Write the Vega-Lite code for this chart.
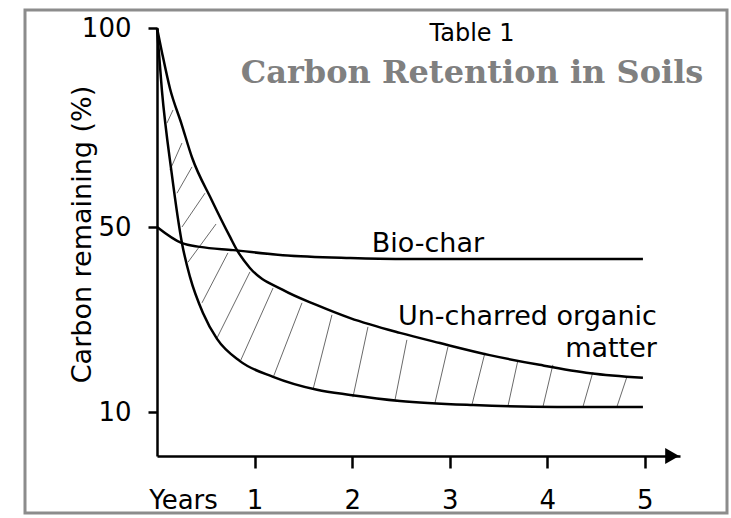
{
  "$schema": "https://vega.github.io/schema/vega-lite/v6.json",
  "autosize": {"type": "none"},
  "width": 702,
  "height": 503,
  "padding": {"left": 25, "top": 10, "right": 4, "bottom": 5},
  "background": "white",
  "title": {
    "text": "Table 1",
    "subtitle": "Carbon Retention in Soils",
    "anchor": "middle",
    "frame": "group",
    "dx": 96,
    "offset": -79,
    "baseline": "top",
    "font": "DejaVu Sans",
    "fontSize": 24,
    "fontWeight": "normal",
    "color": "black",
    "subtitleFont": "DejaVu Serif",
    "subtitleFontSize": 32,
    "subtitleFontWeight": "bold",
    "subtitleColor": "#808080",
    "subtitlePadding": 12
  },
  "datasets": {
    "curves": [
      {"series": "Un-charred organic matter", "t": 0, "v": 100},
      {"series": "Un-charred organic matter", "t": 0.05, "v": 94},
      {"series": "Un-charred organic matter", "t": 0.133, "v": 84.8},
      {"series": "Un-charred organic matter", "t": 0.25, "v": 76},
      {"series": "Un-charred organic matter", "t": 0.36, "v": 67.4},
      {"series": "Un-charred organic matter", "t": 0.56, "v": 56.8},
      {"series": "Un-charred organic matter", "t": 0.75, "v": 47.8},
      {"series": "Un-charred organic matter", "t": 0.82, "v": 45.0},
      {"series": "Un-charred organic matter", "t": 0.95, "v": 41.2},
      {"series": "Un-charred organic matter", "t": 1.29, "v": 36.4},
      {"series": "Un-charred organic matter", "t": 1.64, "v": 33.1},
      {"series": "Un-charred organic matter", "t": 1.98, "v": 30.3},
      {"series": "Un-charred organic matter", "t": 2.49, "v": 27.1},
      {"series": "Un-charred organic matter", "t": 2.9, "v": 24.9},
      {"series": "Un-charred organic matter", "t": 3.41, "v": 22.3},
      {"series": "Un-charred organic matter", "t": 3.92, "v": 20.2},
      {"series": "Un-charred organic matter", "t": 4.44, "v": 18.4},
      {"series": "Un-charred organic matter", "t": 4.98, "v": 17.4},
      {"series": "Lower bound", "t": 0, "v": 100},
      {"series": "Lower bound", "t": 0.05, "v": 84.4},
      {"series": "Lower bound", "t": 0.15, "v": 63.6},
      {"series": "Lower bound", "t": 0.256, "v": 46.5},
      {"series": "Lower bound", "t": 0.338, "v": 39.2},
      {"series": "Lower bound", "t": 0.471, "v": 31.4},
      {"series": "Lower bound", "t": 0.615, "v": 25.8},
      {"series": "Lower bound", "t": 0.85, "v": 21.0},
      {"series": "Lower bound", "t": 1.19, "v": 17.6},
      {"series": "Lower bound", "t": 1.64, "v": 14.8},
      {"series": "Lower bound", "t": 1.98, "v": 13.7},
      {"series": "Lower bound", "t": 2.49, "v": 12.4},
      {"series": "Lower bound", "t": 3.24, "v": 11.5},
      {"series": "Lower bound", "t": 4.1, "v": 11.1},
      {"series": "Lower bound", "t": 4.98, "v": 11.1},
      {"series": "Bio-char", "t": 0, "v": 50},
      {"series": "Bio-char", "t": 0.256, "v": 46.5},
      {"series": "Bio-char", "t": 0.44, "v": 45.7},
      {"series": "Bio-char", "t": 0.78, "v": 45.0},
      {"series": "Bio-char", "t": 1.29, "v": 43.9},
      {"series": "Bio-char", "t": 1.98, "v": 43.3},
      {"series": "Bio-char", "t": 2.49, "v": 43.1},
      {"series": "Bio-char", "t": 3.5, "v": 43.1},
      {"series": "Bio-char", "t": 4.98, "v": 43.1}
    ],
    "hatch": [
      {"t1": 0.102, "v1": 76.1, "t2": 0.164, "v2": 79.4},
      {"t1": 0.133, "v1": 64.3, "t2": 0.256, "v2": 71.1},
      {"t1": 0.205, "v1": 58.5, "t2": 0.359, "v2": 65.1},
      {"t1": 0.256, "v1": 50.0, "t2": 0.492, "v2": 58.5},
      {"t1": 0.318, "v1": 42.4, "t2": 0.605, "v2": 50.75},
      {"t1": 0.461, "v1": 33.6, "t2": 0.727, "v2": 44.4},
      {"t1": 0.615, "v1": 26.0, "t2": 0.953, "v2": 40.3},
      {"t1": 0.85, "v1": 20.8, "t2": 1.189, "v2": 36.8},
      {"t1": 1.189, "v1": 17.4, "t2": 1.486, "v2": 33.6},
      {"t1": 1.598, "v1": 14.8, "t2": 1.793, "v2": 31.0},
      {"t1": 2.008, "v1": 13.2, "t2": 2.162, "v2": 28.4},
      {"t1": 2.439, "v1": 12.6, "t2": 2.561, "v2": 25.6},
      {"t1": 2.848, "v1": 11.9, "t2": 2.982, "v2": 24.1},
      {"t1": 3.227, "v1": 11.5, "t2": 3.361, "v2": 22.8},
      {"t1": 3.596, "v1": 11.2, "t2": 3.699, "v2": 21.2},
      {"t1": 3.955, "v1": 11.1, "t2": 4.057, "v2": 20.2},
      {"t1": 4.365, "v1": 11.1, "t2": 4.467, "v2": 18.6},
      {"t1": 4.713, "v1": 11.1, "t2": 4.816, "v2": 17.6}
    ]
  },
  "layer": [
    {
      "data": {"name": "hatch"},
      "mark": {"type": "rule", "color": "#6a6a6a", "strokeWidth": 1},
      "encoding": {
        "x": {
          "field": "t1", "type": "quantitative",
          "scale": {"domain": [0, 5.36], "range": [132, 655], "nice": false, "zero": false},
          "axis": {
            "orient": "bottom", "offset": -57, "values": [1, 2, 3, 4, 5], "format": "d",
            "domain": true, "domainColor": "black", "domainWidth": 2.5,
            "ticks": true, "tickColor": "black", "tickWidth": 2.5, "tickSize": 12, "tickOpacity": 1,
            "labelFont": "DejaVu Sans", "labelFontSize": 26, "labelColor": "black",
            "labelBaseline": "alphabetic", "labelPadding": 40, "labelFlush": false, "labelOverlap": false,
            "grid": false,
            "title": "Years", "titleFont": "DejaVu Sans", "titleFontSize": 26, "titleFontWeight": "normal",
            "titleColor": "black", "titleX": 158, "titleY": 52, "titleBaseline": "alphabetic", "titleAlign": "center"
          }
        },
        "y": {
          "field": "v1", "type": "quantitative",
          "scale": {"domain": [0, 10, 50, 100], "range": [446, 402, 217, 18], "nice": false, "zero": false},
          "axis": {
            "orient": "left", "offset": -132, "values": [10, 50, 100], "format": "d",
            "domain": true, "domainColor": "black", "domainWidth": 2.5,
            "ticks": true, "tickColor": "black", "tickWidth": 2.5, "tickSize": 9, "tickOpacity": 1,
            "labelFont": "DejaVu Sans", "labelFontSize": 26, "labelColor": "black",
            "labelPadding": 17, "labelFlush": false, "labelOverlap": false,
            "grid": false,
            "title": "Carbon remaining (%)", "titleFont": "DejaVu Sans", "titleFontSize": 27, "titleFontWeight": "normal",
            "titleColor": "black", "titleX": -67, "titleY": 224, "titleBaseline": "alphabetic", "titleAlign": "center", "titleAngle": -90
          }
        },
        "x2": {"field": "t2"},
        "y2": {"field": "v2"}
      }
    },
    {
      "data": {"name": "curves"},
      "mark": {"type": "line", "interpolate": "monotone", "strokeWidth": 2.5, "color": "black"},
      "encoding": {
        "x": {"field": "t", "type": "quantitative"},
        "y": {"field": "v", "type": "quantitative"},
        "detail": {"field": "series", "type": "nominal"}
      }
    },
    {
      "data": {"values": [{}]},
      "mark": {"type": "point", "shape": "triangle-right", "filled": true, "color": "black", "size": 260, "opacity": 1},
      "encoding": {
        "x": {"datum": 5.28},
        "y": {"datum": 0}
      }
    },
    {
      "data": {"values": [{"label": "Bio-char", "t": 2.2, "v": 44.6}]},
      "mark": {"type": "text", "align": "left", "baseline": "alphabetic", "font": "DejaVu Sans", "fontSize": 27, "color": "black"},
      "encoding": {
        "x": {"field": "t", "type": "quantitative"},
        "y": {"field": "v", "type": "quantitative"},
        "text": {"field": "label"}
      }
    },
    {
      "data": {"values": [
        {"label": "Un-charred organic", "t": 5.123, "v": 28.8},
        {"label": "matter", "t": 5.123, "v": 21.9}
      ]},
      "mark": {"type": "text", "align": "right", "baseline": "alphabetic", "font": "DejaVu Sans", "fontSize": 27, "color": "black"},
      "encoding": {
        "x": {"field": "t", "type": "quantitative"},
        "y": {"field": "v", "type": "quantitative"},
        "text": {"field": "label"}
      }
    }
  ],
  "config": {
    "view": {"stroke": "#8c8c8c", "strokeWidth": 3},
    "axis": {"grid": false, "ticks": true}
  }
}
